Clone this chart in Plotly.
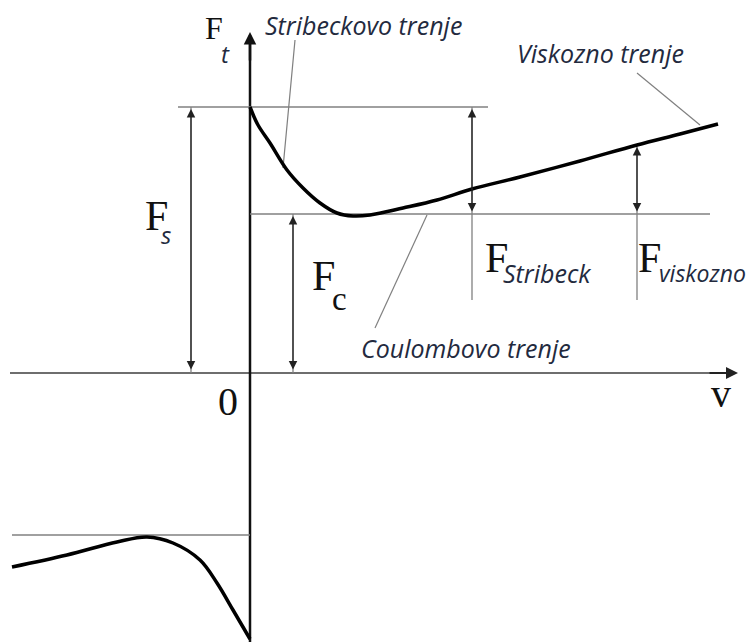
import plotly.graph_objects as go

# Stribeck friction curve, positive velocity branch (v, Ft)
v_pos = [0.0, 0.08, 0.20, 0.37, 0.53, 0.70, 0.87, 1.03, 1.20, 1.53, 1.87, 2.22, 2.70, 3.30, 3.87, 4.30, 4.68]
f_pos = [2.66, 2.48, 2.30, 2.03, 1.85, 1.70, 1.60, 1.57, 1.58, 1.65, 1.73, 1.84, 1.96, 2.12, 2.28, 2.39, 2.49]

# negative velocity branch
v_neg = [-2.38, -1.83, -1.33, -1.03, -0.77, -0.50, -0.33, -0.17, 0.0]
f_neg = [-1.94, -1.82, -1.69, -1.64, -1.70, -1.87, -2.10, -2.37, -2.66]

F_S = 2.66        # static friction
F_C = 1.59        # Coulomb friction
F_C_NEG = -1.62
v_stribeck = 2.22
v_visc = 3.87
F_visc = 2.28

V_MIN, V_MAX = -2.40, 4.88
F_MIN, F_MAX = -2.69, 3.41

GRAY = '#808080'
TXT = '#232a3e'
SANS = 'Open Sans'

fig = go.Figure()


def seg(x, y, color, width, shape='linear'):
    fig.add_trace(go.Scatter(x=x, y=y, mode='lines',
                             line=dict(color=color, width=width, shape=shape,
                                       smoothing=1.0),
                             hoverinfo='skip'))


# axes
seg([V_MIN, V_MAX - 0.05], [0, 0], '#6e6e6e', 2)
seg([0, 0], [F_MIN, F_MAX - 0.05], '#111111', 2.5)

# reference levels
seg([-0.72, 2.38], [F_S, F_S], GRAY, 1.6)
seg([0, 4.60], [F_C, F_C], GRAY, 1.6)
seg([V_MIN + 0.02, 0], [F_C_NEG, F_C_NEG], GRAY, 1.6)

# dimension / extension lines
seg([v_stribeck, v_stribeck], [F_S, 0.73], GRAY, 1.3)
seg([v_visc, v_visc], [F_visc, 0.73], GRAY, 1.3)
seg([-0.59, -0.59], [F_S, 0], GRAY, 1.3)
seg([0.43, 0.43], [F_C, 0], GRAY, 1.3)

# leader lines
seg([0.45, 0.33], [3.33, 2.05], GRAY, 1.2)
seg([3.87, 4.50], [3.00, 2.48], GRAY, 1.2)
seg([1.25, 1.77], [0.45, 1.58], GRAY, 1.2)

# friction curve
seg(v_pos, f_pos, '#000000', 3.5, 'spline')
seg(v_neg, f_neg, '#000000', 3.5, 'spline')


def arrow(x0, y0, x1, y1, width=1.3, size=1.3):
    fig.add_annotation(x=x1, y=y1, ax=x0, ay=y0, xref='x', yref='y',
                       axref='x', ayref='y', text='', showarrow=True,
                       arrowhead=2, arrowsize=size, arrowwidth=width,
                       arrowcolor='#222222', arrowside='end+start')


arrow(-0.59, 0.02, -0.59, F_S - 0.02)
arrow(0.43, 0.02, 0.43, F_C - 0.02)
arrow(v_stribeck, F_C + 0.01, v_stribeck, F_S - 0.02)
arrow(v_visc, F_C + 0.01, v_visc, F_visc - 0.02)

# axis arrowheads
fig.add_annotation(x=V_MAX, y=0, ax=V_MAX - 0.3, ay=0, xref='x', yref='y',
                   axref='x', ayref='y', text='', showarrow=True,
                   arrowhead=2, arrowsize=1.2, arrowwidth=2, arrowcolor='#222222')
fig.add_annotation(x=0, y=F_MAX, ax=0, ay=F_MAX - 0.3, xref='x', yref='y',
                   axref='x', ayref='y', text='', showarrow=True,
                   arrowhead=2, arrowsize=1.0, arrowwidth=2.5, arrowcolor='#111111')


def label(x, y, text, size, family='Liberation Serif', color='#111111',
          italic=False, anchor='center'):
    fig.add_annotation(x=x, y=y, xref='x', yref='y', text=text, showarrow=False,
                       xanchor=anchor, yanchor='middle',
                       font=dict(family=family, size=size, color=color,
                                 style='italic' if italic else 'normal'))


label(-0.36, 3.45, 'F', 32)
label(-0.25, 3.20, 't', 24, SANS, TXT, True)
label(-0.94, 1.57, 'F', 42)
label(-0.84, 1.39, 's', 24, SANS, TXT, True)
label(0.73, 0.97, 'F', 42)
label(0.89, 0.74, 'c', 33)
label(2.46, 1.15, 'F', 42)
label(2.51, 1.00, 'Stribeck', 25, SANS, TXT, True, 'left')
label(3.99, 1.15, 'F', 42)
label(4.07, 1.00, 'viskozno', 23, SANS, TXT, True, 'left')
label(-0.22, -0.28, '0', 40)
label(4.71, -0.20, 'v', 40)

label(1.13, 3.48, 'Stribeckovo trenje', 25, SANS, TXT, True)
label(3.50, 3.20, 'Viskozno trenje', 25, SANS, TXT, True)
label(2.16, 0.25, 'Coulombovo trenje', 25, SANS, TXT, True)

# page body adds an 8 px margin, so the figure is 8 px smaller
fig.update_layout(
    width=746, height=634, autosize=False,
    margin=dict(l=0, r=0, t=0, b=0),
    paper_bgcolor='white', plot_bgcolor='white',
    showlegend=False,
    xaxis=dict(range=[-2.42, 5.04], visible=False, fixedrange=True),
    yaxis=dict(range=[-2.69, 3.65], visible=False, fixedrange=True),
)

fig.write_html("out.html")
